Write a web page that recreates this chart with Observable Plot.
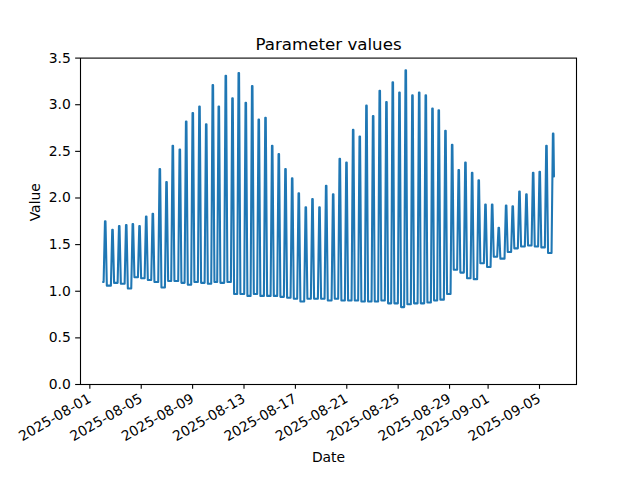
<!DOCTYPE html>
<html><head><meta charset="utf-8">
<script src="https://cdn.jsdelivr.net/npm/d3@7"></script>
<script src="https://cdn.jsdelivr.net/npm/@observablehq/plot@0.6"></script>
<style>body{margin:0;background:#fff}</style>
</head><body><div id="chart"></div>
<script>
const title = "Parameter values";
const xLabel = "Date";
const yLabel = "Value";
const seriesStart = {time: "2025-08-02T04:25", value: 1.10};
const seriesEnd = {time: "2025-09-06T06:45", value: 2.23};
const peakTimes = [
 "2025-08-02T08:30","2025-08-02T22:05","2025-08-03T10:40","2025-08-03T23:45","2025-08-04T12:05",
 "2025-08-05T00:35","2025-08-05T13:05","2025-08-06T01:25","2025-08-06T14:30","2025-08-07T03:00",
 "2025-08-07T14:45","2025-08-08T03:50","2025-08-08T15:45","2025-08-09T04:05","2025-08-09T16:35",
 "2025-08-10T05:10","2025-08-10T17:30","2025-08-11T04:40","2025-08-11T17:45","2025-08-12T06:15",
 "2025-08-12T18:00","2025-08-13T07:05","2025-08-13T19:05","2025-08-14T07:20","2025-08-14T19:55",
 "2025-08-15T08:25","2025-08-15T20:45","2025-08-16T09:15","2025-08-16T21:45","2025-08-17T10:05",
 "2025-08-17T23:10","2025-08-18T11:40","2025-08-19T00:45","2025-08-19T13:15","2025-08-20T02:20",
 "2025-08-20T14:40","2025-08-21T03:10","2025-08-21T15:40","2025-08-22T04:00","2025-08-22T16:30",
 "2025-08-23T05:00","2025-08-23T17:20","2025-08-24T05:50","2025-08-24T17:40","2025-08-25T06:10",
 "2025-08-25T17:55","2025-08-26T06:25","2025-08-26T19:00","2025-08-27T07:20","2025-08-27T19:50",
 "2025-08-28T07:35","2025-08-28T20:05","2025-08-29T08:35","2025-08-29T20:55","2025-08-30T09:25",
 "2025-08-30T21:55","2025-08-31T10:15","2025-08-31T22:50","2025-09-01T11:20","2025-09-01T23:40",
 "2025-09-02T13:25","2025-09-03T01:45","2025-09-03T14:20","2025-09-04T03:20","2025-09-04T15:55",
 "2025-09-05T04:10","2025-09-05T16:45","2025-09-06T05:15"
];
const peakValues = [
 1.75,1.66,1.70,1.71,1.72,1.70,1.80,1.83,2.31,2.17,
 2.56,2.52,2.82,2.91,2.98,2.79,3.21,2.98,3.31,3.07,
 3.34,3.02,3.20,2.84,2.86,2.56,2.47,2.31,2.21,2.05,
 1.90,1.99,1.90,2.13,2.04,2.42,2.38,2.73,2.66,2.99,
 2.88,3.15,3.03,3.24,3.13,3.37,3.10,3.13,3.10,2.96,
 2.94,2.72,2.57,2.30,2.38,2.27,2.19,1.93,1.93,1.68,
 1.92,1.91,2.07,2.04,2.27,2.28,2.56,2.69
];
const troughValues = [
 1.06,1.09,1.08,1.03,1.15,1.14,1.12,1.10,1.04,1.11,
 1.11,1.09,1.07,1.10,1.09,1.08,1.10,1.09,1.10,0.97,
 0.97,0.95,0.97,0.95,0.95,0.95,0.94,0.93,0.92,0.89,
 0.92,0.92,0.92,0.90,0.92,0.90,0.90,0.90,0.89,0.89,
 0.89,0.90,0.87,0.87,0.83,0.86,0.87,0.87,0.88,0.90,
 0.91,0.97,1.23,1.20,1.14,1.13,1.30,1.26,1.37,1.35,
 1.42,1.46,1.48,1.49,1.48,1.47,1.41
];
const xTickDates = ["2025-08-01","2025-08-05","2025-08-09","2025-08-13","2025-08-17",
 "2025-08-21","2025-08-25","2025-08-29","2025-09-01","2025-09-05"];
const yTickValues = [0, 0.5, 1.0, 1.5, 2.0, 2.5, 3.0, 3.5];

const H = 3600e3;
const parse = s => new Date(s + (s.length === 10 ? "T00:00Z" : "Z"));
const points = [{t: parse(seriesStart.time), v: seriesStart.value}];
peakTimes.forEach((s, i) => {
  const tp = +parse(s);
  const before = i === 0 ? seriesStart.value : troughValues[i - 1];
  points.push({t: new Date(tp - 3 * H), v: before});
  points.push({t: new Date(tp - 0.5 * H), v: peakValues[i]});
  points.push({t: new Date(tp + 0.5 * H), v: peakValues[i]});
  if (i < troughValues.length) points.push({t: new Date(tp + 3 * H), v: troughValues[i]});
});
points.push({t: parse(seriesEnd.time), v: seriesEnd.value});

const t0 = points[0].t, t1 = points[points.length - 1].t;
const pad = 0.05 * (t1 - t0);

const chart = Plot.plot({
  width: 640, height: 480,
  marginLeft: 80, marginRight: 64, marginTop: 57.6, marginBottom: 96,
  style: {fontFamily: "DejaVu Sans", fontSize: "13.9px", color: "black", background: "white"},
  x: {type: "utc", domain: [new Date(+t0 - pad), new Date(+t1 + pad)]},
  y: {domain: [0, 3.5]},
  marks: [
    Plot.line(points, {x: "t", y: "v", stroke: "#1f77b4", strokeWidth: 2.08}),
    Plot.frame({stroke: "black", strokeWidth: 1.1}),
    Plot.axisY({ticks: yTickValues, tickFormat: d3.format(".1f"), tickSize: 4.86, tickPadding: 4.86, label: null, strokeWidth: 1.1}),
    Plot.axisX({ticks: xTickDates.map(parse), tickFormat: d3.utcFormat("%Y-%m-%d"), tickSize: 4.86, tickPadding: 8, dx: 2, tickRotate: -30, label: null, strokeWidth: 1.1}),
    Plot.text([title], {frameAnchor: "top", dy: -8.3, lineAnchor: "bottom", fontSize: 16.67}),
    Plot.text([yLabel], {frameAnchor: "left", dx: -45, rotate: -90, lineAnchor: "middle"}),
    Plot.text([xLabel], {frameAnchor: "bottom", dy: 73, lineAnchor: "middle"})
  ]
});
document.getElementById("chart").appendChild(chart);
</script>
</body></html>
